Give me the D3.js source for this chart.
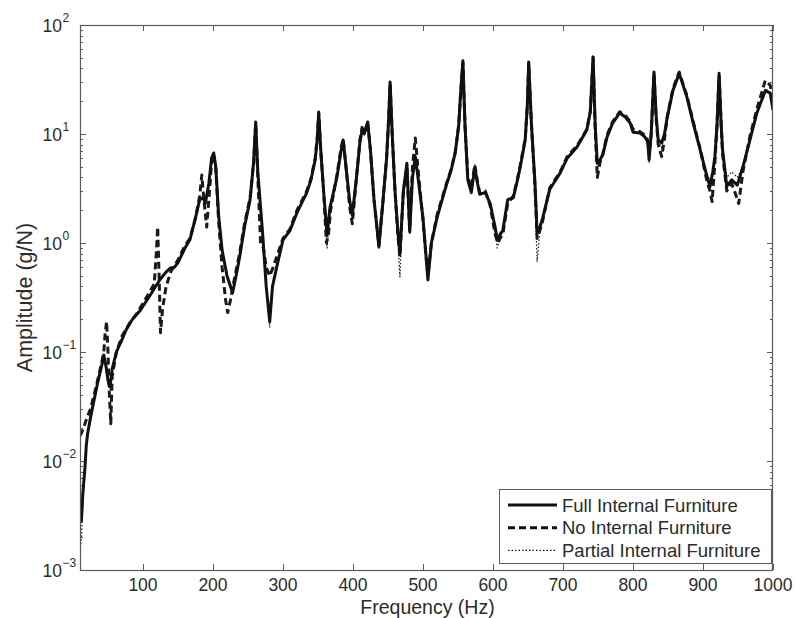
<!DOCTYPE html>
<html><head><meta charset="utf-8">
<script src="https://cdn.jsdelivr.net/npm/d3@7"></script>
<style>body{margin:0;background:#fff}svg{display:block}</style>
</head><body>
<svg id="c" width="795" height="618"></svg>
<script>
const seriesNames = ["Full Internal Furniture","No Internal Furniture","Partial Internal Furniture"];
const xTicks = [100,200,300,400,500,600,700,800,900,1000];
const yTickExps = [-3,-2,-1,0,1,2];

const fullFurniture = [[10,0.004],[12,0.0028],[14,0.005],[17,0.0085],[19,0.014],[21,0.018],[25,0.025],[30,0.036],[36,0.055],[41,0.075],[44,0.094],[47,0.075],[50,0.055],[53,0.048],[56,0.07],[62,0.1],[70,0.13],[76,0.16],[85,0.2],[96,0.24],[110,0.33],[124,0.46],[134,0.55],[139,0.59],[145,0.6],[150,0.66],[160,0.9],[167,1.07],[175,1.7],[181,2.5],[186,2.6],[189,2.3],[194,3.5],[198,6.0],[201,6.7],[204,5],[208,1.8],[213,0.86],[220,0.5],[228,0.35],[233,0.5],[238,0.74],[245,1.4],[253,2.5],[258,5.5],[261,12.9],[264,4.5],[271,1.2],[276,0.4],[281,0.19],[285,0.4],[291,0.6],[300,1.07],[310,1.3],[320,1.9],[334,2.9],[340,3.8],[346,5.8],[349,9],[351,15.9],[354,7],[358,3],[363,1.18],[367,2.1],[377,4.0],[383,7],[386,8.8],[390,5],[395,2.5],[399,1.8],[405,4],[410,8.5],[413,10.9],[416,10.2],[421,12.9],[425,7],[430,2.5],[437,0.92],[443,2.5],[448,6],[451,14],[453,30],[456,10],[460,3],[464,1.3],[467,0.81],[472,3],[477,5.4],[481,1.26],[485,4],[489,6.2],[494,3.5],[500,1.7],[504,0.8],[507,0.46],[512,1.0],[520,1.7],[524,2.1],[534,3.5],[540,4.6],[546,6.7],[551,12],[554,25],[557,47],[560,12],[564,3.8],[569,2.9],[574,4.9],[578,3.5],[581,2.8],[589,2.9],[596,2.3],[603,1.4],[606,1.07],[610,1.2],[614,1.3],[621,2.5],[629,2.6],[635,3.8],[639,5.0],[646,8.8],[649,18],[651,45.7],[655,12],[660,3.5],[663,1.23],[667,1.4],[671,1.7],[681,3.1],[696,4.4],[706,6.0],[720,7.6],[734,10.9],[739,16],[743,51],[746,12],[749,5.4],[753,5.8],[757,6.5],[763,9.4],[771,12.6],[781,15.6],[789,14.3],[796,12.6],[800,10.4],[810,10.2],[817,9.4],[821,8.5],[823,5.8],[826,10],[830,37],[833,15],[836,8.8],[841,8.3],[845,10],[849,14.3],[857,25],[866,36],[877,21.8],[886,12.6],[896,7.1],[906,4.0],[910,3.3],[914,4.5],[917,6.2],[920,12],[923,36],[926,12],[928,7.1],[934,3.3],[941,3.8],[949,3.4],[957,5.0],[967,8.8],[977,15.6],[989,25],[996,23.7],[1000,16.6]];

const noFurniture = [[10,0.017],[12,0.018],[15,0.02],[20,0.025],[25,0.03],[30,0.04],[36,0.058],[41,0.08],[44,0.1],[46,0.15],[48,0.19],[50,0.1],[52,0.04],[54,0.022],[56,0.06],[62,0.1],[70,0.14],[80,0.18],[90,0.22],[100,0.28],[110,0.36],[116,0.42],[119,0.8],[121,1.4],[123,0.5],[125,0.15],[128,0.25],[133,0.4],[140,0.55],[150,0.7],[160,0.95],[167,1.1],[175,1.7],[181,2.7],[184,4.2],[187,2.5],[191,1.4],[195,3.0],[198,5.5],[201,6.5],[204,4.8],[208,1.6],[213,0.6],[218,0.3],[221,0.23],[225,0.3],[230,0.45],[238,0.8],[245,1.5],[253,2.6],[258,5.5],[261,12.5],[264,4],[268,1.0],[272,0.9],[276,0.6],[281,0.5],[286,0.6],[291,0.75],[300,1.1],[310,1.35],[320,2.0],[334,3.0],[340,3.9],[346,6],[349,9.5],[351,15.5],[354,7],[358,3],[362,1.0],[365,1.2],[368,2.0],[377,4.2],[383,7.5],[386,9.0],[390,5],[395,2.2],[399,1.5],[405,4],[410,9],[413,11.5],[416,10],[421,12.5],[425,7],[430,2.5],[437,0.95],[443,2.5],[448,6],[451,14],[453,29],[456,10],[460,3],[464,1.2],[467,0.75],[472,3],[477,5.0],[481,1.3],[485,5],[489,9.2],[494,4],[500,1.6],[504,0.8],[507,0.5],[512,1.0],[520,1.8],[524,2.2],[534,3.6],[540,4.7],[546,6.8],[551,12],[554,25],[557,45],[560,12],[564,4],[569,3.2],[574,5.2],[578,3.6],[581,2.9],[589,3.0],[596,2.2],[603,1.2],[607,1.0],[610,1.1],[614,1.2],[621,2.3],[629,2.7],[635,3.9],[639,5.2],[646,9],[649,18],[651,44],[655,12],[660,3.3],[663,1.1],[667,1.3],[671,1.6],[681,3.2],[696,4.5],[706,6.2],[720,7.8],[734,11],[739,16],[743,50],[746,11],[749,4.0],[753,5.5],[757,6.6],[763,9.8],[771,13],[781,16],[789,14.8],[796,13],[800,11],[810,10.5],[817,9.8],[821,8.8],[823,6.5],[826,10],[830,36],[833,14],[836,8.0],[841,6.2],[845,9],[849,14.5],[857,26],[866,37],[877,22.5],[886,13],[896,7.3],[906,3.6],[910,3.0],[913,2.4],[917,5.5],[920,12],[923,34],[926,12],[928,6.5],[934,3.0],[941,3.5],[945,3.0],[951,2.3],[957,4.5],[967,9.5],[977,17],[989,31],[996,28],[1000,20]];

const partialFurniture = [[10,0.0015],[12,0.002],[14,0.004],[17,0.008],[19,0.013],[21,0.017],[25,0.024],[30,0.035],[36,0.054],[41,0.075],[44,0.092],[47,0.07],[50,0.05],[53,0.045],[56,0.068],[62,0.1],[70,0.13],[76,0.16],[85,0.2],[96,0.24],[110,0.33],[124,0.46],[134,0.55],[139,0.59],[145,0.6],[150,0.66],[160,0.9],[167,1.07],[175,1.7],[181,2.5],[186,2.6],[189,2.2],[194,3.4],[198,6.0],[201,6.6],[204,5],[208,1.8],[213,0.85],[220,0.48],[228,0.34],[233,0.5],[238,0.74],[245,1.4],[253,2.5],[258,5.5],[261,12.7],[264,4.5],[271,1.2],[276,0.4],[281,0.17],[285,0.4],[291,0.6],[300,1.07],[310,1.3],[320,1.9],[334,2.9],[340,3.8],[346,5.8],[349,9],[351,15.5],[354,7],[358,3],[363,0.9],[367,2.0],[377,4.0],[383,7],[386,8.6],[390,5],[395,2.5],[399,1.7],[405,4],[410,8.5],[413,10.7],[416,10.2],[421,12.7],[425,7],[430,2.5],[437,0.9],[443,2.5],[448,6],[451,14],[453,29],[456,10],[460,3],[464,1.1],[467,0.49],[472,3],[477,5.3],[481,1.2],[485,4],[489,6.5],[494,3.5],[500,1.7],[504,0.8],[507,0.45],[512,1.0],[520,1.7],[524,2.1],[534,3.5],[540,4.6],[546,6.7],[551,12],[554,25],[557,46],[560,12],[564,3.8],[569,2.9],[574,5.2],[578,3.5],[581,2.8],[589,3.0],[596,2.3],[603,1.3],[606,0.9],[610,1.1],[614,1.3],[621,2.5],[629,2.6],[635,3.8],[639,5.0],[646,8.8],[649,18],[651,45],[655,12],[660,3.2],[663,0.67],[667,1.3],[671,1.7],[681,3.1],[696,4.4],[706,6.0],[720,7.6],[734,10.9],[739,16],[743,50],[746,12],[749,5.0],[753,5.8],[757,6.5],[763,9.4],[771,12.6],[781,15.6],[789,14.3],[796,12.6],[800,10.4],[810,10.2],[817,9.4],[821,8.5],[823,5.5],[826,10],[830,36],[833,15],[836,8.5],[841,7.5],[845,10],[849,14.3],[857,25],[866,35],[877,21.8],[886,12.6],[896,7.1],[906,4.2],[910,3.8],[914,4.5],[917,6.2],[920,12],[923,35],[926,12],[928,7.1],[934,4.0],[941,4.5],[949,4.0],[957,5.0],[967,8.8],[977,15.6],[989,26],[996,24],[1000,17]];

const svg = d3.select("#c");
const L = 80, R = 773, T = 25, B = 570;
const x = d3.scaleLinear().domain([10, 1000]).range([L, R]);
const y = d3.scaleLog().domain([1e-3, 1e2]).range([B, T]);
const axisCol = "#5a5a5a", textCol = "#2b2b2b";
const font = "'Liberation Sans', Arial, Helvetica, sans-serif";

svg.append("defs").append("clipPath").attr("id","clip")
  .append("rect").attr("x",L).attr("y",T).attr("width",R-L).attr("height",B-T);

const minorY = [];
for (let e=-3; e<2; e++) for (let m=2; m<10; m++) minorY.push(m*Math.pow(10,e));
const majorY = yTickExps.map(e=>Math.pow(10,e));

const tickG = svg.append("g").attr("stroke",axisCol).attr("stroke-width",1);
minorY.forEach(v=>{
  const yy = Math.round(y(v))+0.5;
  tickG.append("line").attr("x1",L).attr("x2",L+3).attr("y1",yy).attr("y2",yy);
  tickG.append("line").attr("x1",R-3).attr("x2",R).attr("y1",yy).attr("y2",yy);
});
majorY.forEach(v=>{
  const yy = Math.round(y(v))+0.5;
  tickG.append("line").attr("x1",L).attr("x2",L+6).attr("y1",yy).attr("y2",yy);
  tickG.append("line").attr("x1",R-6).attr("x2",R).attr("y1",yy).attr("y2",yy);
});
xTicks.forEach(v=>{
  const xx = Math.round(x(v))+0.5;
  tickG.append("line").attr("x1",xx).attr("x2",xx).attr("y1",B).attr("y2",B-6);
  tickG.append("line").attr("x1",xx).attr("x2",xx).attr("y1",T).attr("y2",T+6);
});

const line = d3.line().x(d=>x(d[0])).y(d=>y(d[1]));
const g = svg.append("g").attr("clip-path","url(#clip)").attr("fill","none").attr("stroke-linejoin","round");
g.append("path").datum(partialFurniture).attr("d",line).attr("stroke","#222").attr("stroke-width",1.3).attr("stroke-dasharray","1.5,2");
g.append("path").datum(noFurniture).attr("d",line).attr("stroke","#1a1a1a").attr("stroke-width",3).attr("stroke-dasharray","7,4");
g.append("path").datum(fullFurniture).attr("d",line).attr("stroke","#111").attr("stroke-width",3);

svg.append("rect").attr("x",L+0.5).attr("y",T+0.5).attr("width",R-L-1).attr("height",B-T)
  .attr("fill","none").attr("stroke",axisCol).attr("stroke-width",1.2);

const tx = svg.append("g").attr("font-family",font).attr("font-size",17.5).attr("fill",textCol);
xTicks.forEach(v=>{
  tx.append("text").attr("x",x(v)).attr("y",B+21).attr("text-anchor","middle").text(v);
});
yTickExps.forEach(e=>{
  const yy = y(Math.pow(10,e));
  tx.append("text").attr("x",62).attr("y",yy+7).attr("text-anchor","end").text("10");
  tx.append("text").attr("x",62.5).attr("y",yy-3).attr("font-size",12).text(e < 0 ? "\u2212" + (-e) : e);
});

svg.append("text").attr("x",(L+R)/2 + 1).attr("y",614).attr("text-anchor","middle")
  .attr("font-family",font).attr("font-size",19.5).attr("fill",textCol).text("Frequency (Hz)");
svg.append("text").attr("transform",`translate(32,${(T+B)/2}) rotate(-90)`).attr("text-anchor","middle")
  .attr("font-family",font).attr("font-size",21.5).attr("fill",textCol).text("Amplitude (g/N)");

const lg = svg.append("g");
lg.append("rect").attr("x",499.5).attr("y",489.5).attr("width",272).attr("height",74)
  .attr("fill","#fff").attr("stroke",axisCol).attr("stroke-width",1);
const styles = [
  {w:3, dash:null},
  {w:3, dash:"7,4"},
  {w:1.3, dash:"1.5,2"}
];
seriesNames.forEach((n,i)=>{
  const yy = 505 + i*22.7;
  const ln = lg.append("line").attr("x1",508).attr("x2",557).attr("y1",yy).attr("y2",yy)
    .attr("stroke","#111").attr("stroke-width",styles[i].w);
  if (styles[i].dash) ln.attr("stroke-dasharray",styles[i].dash);
  lg.append("text").attr("x",562).attr("y",yy+6.5).attr("font-family",font).attr("font-size",18.5)
    .attr("fill",textCol).text(n);
});
</script>
</body></html>
